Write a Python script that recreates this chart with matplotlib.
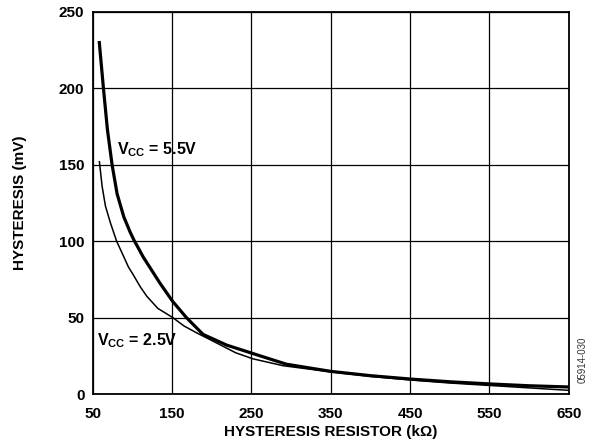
import matplotlib
matplotlib.use("Agg")
import matplotlib.pyplot as plt

plt.rcParams['font.family'] = ['Liberation Sans', 'DejaVu Sans']
plt.rcParams['mathtext.fontset'] = 'custom'
plt.rcParams['mathtext.rm'] = 'Liberation Sans:bold'
plt.rcParams['mathtext.bf'] = 'Liberation Sans:bold'

# Data
r_55 = [58, 63.4, 68.4, 74.3, 80.6, 89, 97, 101.6, 113.7, 134.8, 150.8, 168, 189,
        218.7, 260.7, 294, 350, 400, 450, 500, 550, 600, 650]
h_55 = [231, 200, 173, 150, 131, 116, 106, 101, 89.5, 72.4, 60.5, 50, 39,
        32, 25, 19.5, 14.8, 12, 9.8, 8, 6.6, 5.4, 4.6]
r_25 = [58.3, 61.7, 65.9, 72.2, 80, 88, 95, 101, 110, 118, 132, 150.8, 165, 181,
        206, 230, 252, 290, 350, 400, 450, 500, 550, 600, 650]
h_25 = [152, 136, 123, 112, 100, 91, 83, 78, 70, 64, 56, 50, 44.5, 40,
        33.4, 27, 23, 18.5, 14.5, 11.5, 9.2, 7.2, 5.6, 4, 2.4]

x_ticks = [50, 150, 250, 350, 450, 550, 650]
y_ticks = [0, 50, 100, 150, 200, 250]

fig = plt.figure(figsize=(5.95, 4.44), dpi=100)
ax = fig.add_axes([0.156, 0.1126, 0.8, 0.8604])

ax.plot(r_55, h_55, color='black', lw=2.3, solid_capstyle='butt', zorder=3)
ax.plot(r_25, h_25, color='black', lw=1.1, zorder=3)

ax.set_xlim(50, 650)
ax.set_ylim(0, 250)
ax.set_xticks(x_ticks)
ax.set_yticks(y_ticks)
ax.grid(True, color='black', lw=0.9)
ax.tick_params(axis='y', length=0, labelsize=11, pad=6)
ax.tick_params(axis='x', length=0, labelsize=11, pad=9)
for lab in ax.get_xticklabels() + ax.get_yticklabels():
    lab.set_fontweight('bold')
for s in ax.spines.values():
    s.set_linewidth(1.3)

ax.set_xlabel('HYSTERESIS RESISTOR (kΩ)', fontsize=11, fontweight='bold', labelpad=3)
ax.set_ylabel('HYSTERESIS (mV)', fontsize=11, fontweight='bold', labelpad=23)

ax.text(80.6, 160, r'$\mathrm{V_{CC}}$ = 5.5V', fontsize=11.5, fontweight='bold',
        va='center', ha='left')
ax.text(55.4, 35, r'$\mathrm{V_{CC}}$ = 2.5V', fontsize=11.5, fontweight='bold',
        va='center', ha='left')

fig.text(0.98, 0.19, '05914-030', rotation=90, fontsize=7, color='#333333',
         ha='center', va='center')

fig.savefig('out.png', dpi=100)
